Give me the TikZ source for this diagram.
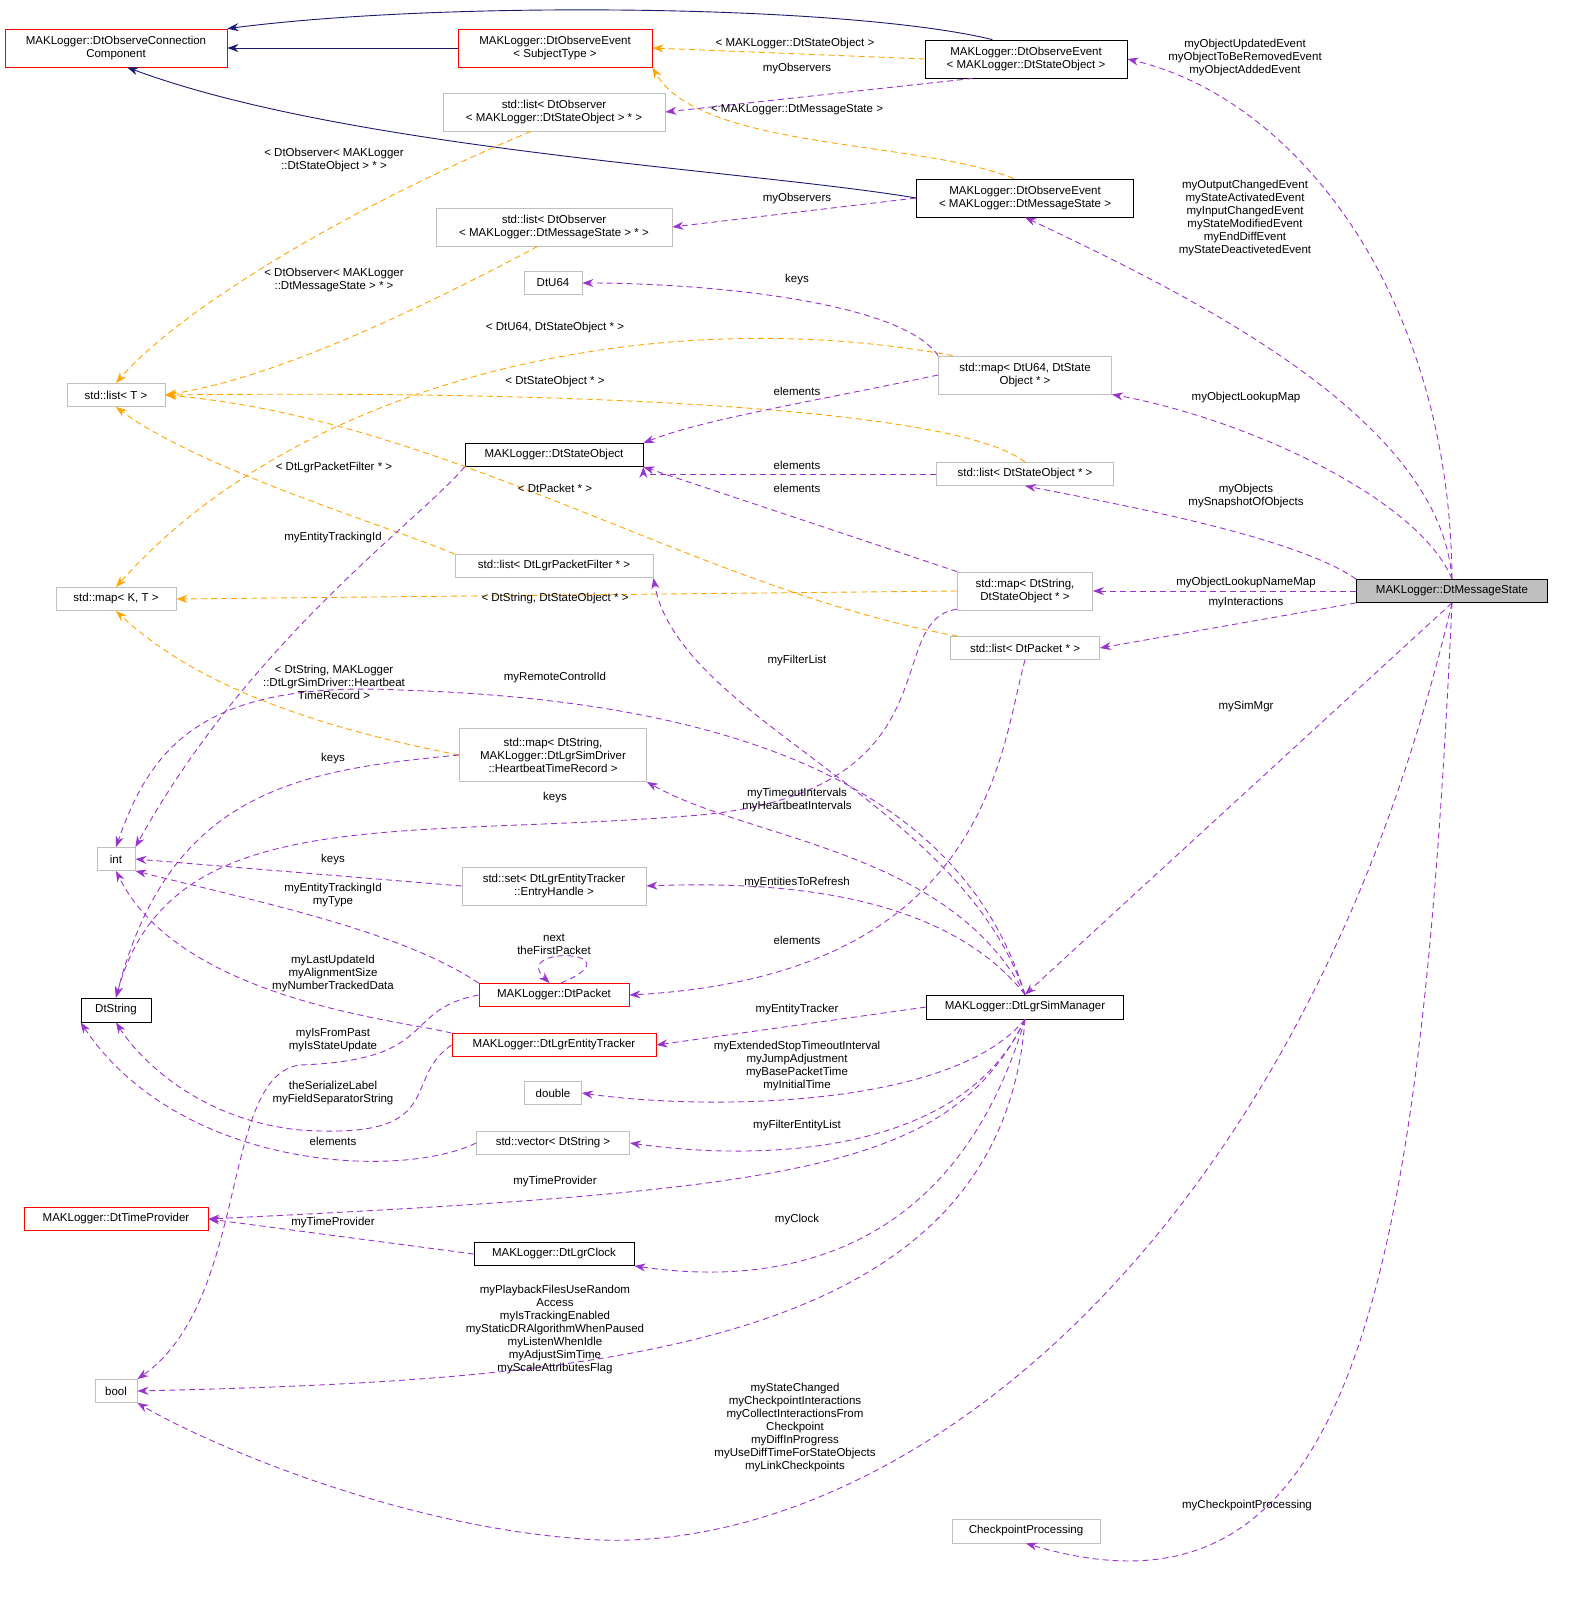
\documentclass[tikz,border=0pt]{standalone}
\usepackage{fontspec}
\setmainfont{Liberation Sans}
\usetikzlibrary{arrows.meta}
\definecolor{inhnavy}{RGB}{25,25,112}
\definecolor{usepurple}{RGB}{154,50,205}
\definecolor{tmplorange}{RGB}{255,165,0}
\definecolor{boxgray}{RGB}{191,191,191}

\begin{document}
\begin{tikzpicture}[x=1pt,y=-1pt,
    every node/.style={font=\fontsize{11.5}{13}\selectfont},
    cls/.style={draw=boxgray, fill=white, align=center, inner sep=1pt, line width=0.8pt},
    dcls/.style={cls, draw=black},
    rcls/.style={cls, draw=red},
    lbl/.style={align=center, inner sep=0pt},
    inh/.style={inhnavy, line width=0.9pt, -{Stealth[length=11pt,width=8pt]}},
    usage/.style={usepurple, line width=0.9pt, dash pattern=on 6pt off 4pt, -{Stealth[length=11pt,width=8pt]}},
    tmpl/.style={tmplorange, line width=0.9pt, dash pattern=on 6pt off 4pt, -{Stealth[length=11pt,width=8pt]}}]
    \useasboundingbox (0,0) rectangle (1589,1603);

    % Classes
    \node[rcls, minimum width=222, minimum height=38] (conn) at (116,48) {MAKLogger::DtObserveConnection\\Component};
    \node[rcls, minimum width=194, minimum height=38] (evSubj) at (555,48) {MAKLogger::DtObserveEvent\\< SubjectType >};
    \node[dcls, minimum width=202, minimum height=38] (evState) at (1026,59) {MAKLogger::DtObserveEvent\\< MAKLogger::DtStateObject >};
    \node[cls, minimum width=222, minimum height=38] (listObsState) at (554,112) {std::list< DtObserver\\< MAKLogger::DtStateObject > * >};
    \node[dcls, minimum width=217, minimum height=38] (evMsg) at (1025,198) {MAKLogger::DtObserveEvent\\< MAKLogger::DtMessageState >};
    \node[cls, minimum width=236, minimum height=38] (listObsMsg) at (554,227) {std::list< DtObserver\\< MAKLogger::DtMessageState > * >};
    \node[cls, minimum width=58, minimum height=23] (dtu64) at (553,283) {DtU64};
    \node[cls, minimum width=98, minimum height=23] (listT) at (116,395) {std::list< T >};
    \node[cls, minimum width=173, minimum height=38] (mapDtU64) at (1025,375) {std::map< DtU64, DtState\\Object * >};
    \node[dcls, minimum width=178, minimum height=23] (stateObj) at (554,455) {MAKLogger::DtStateObject};
    \node[cls, minimum width=177, minimum height=23] (listStateObj) at (1025,474) {std::list< DtStateObject * >};
    \node[cls, minimum width=198, minimum height=23] (listFilter) at (554,566) {std::list< DtLgrPacketFilter * >};
    \node[cls, minimum width=120, minimum height=23] (mapKT) at (116,599) {std::map< K, T >};
    \node[cls, minimum width=135, minimum height=38] (mapStr) at (1025,591) {std::map< DtString,\\DtStateObject * >};
    \node[cls, fill=boxgray, draw=black, minimum width=191, minimum height=23] (msgState) at (1452,591) {MAKLogger::DtMessageState};
    \node[cls, minimum width=149, minimum height=23] (listPacket) at (1025,648) {std::list< DtPacket * >};
    \node[cls, minimum width=187, minimum height=53] (mapHb) at (553,755) {std::map< DtString,\\MAKLogger::DtLgrSimDriver\\::HeartbeatTimeRecord >};
    \node[cls, minimum width=38, minimum height=23] (int) at (116,859) {int};
    \node[cls, minimum width=184, minimum height=38] (setEntry) at (554,886) {std::set< DtLgrEntityTracker\\::EntryHandle >};
    \node[rcls, minimum width=150, minimum height=23] (packet) at (554,995) {MAKLogger::DtPacket};
    \node[dcls, minimum width=70, minimum height=24] (dtstring) at (116,1010) {DtString};
    \node[dcls, minimum width=197, minimum height=24] (simMgr) at (1025,1007) {MAKLogger::DtLgrSimManager};
    \node[rcls, minimum width=204, minimum height=23] (entTracker) at (554,1045) {MAKLogger::DtLgrEntityTracker};
    \node[cls, minimum width=57, minimum height=23] (double) at (553,1093) {double};
    \node[cls, minimum width=153, minimum height=23] (vecStr) at (553,1143) {std::vector< DtString >};
    \node[rcls, minimum width=184, minimum height=23] (timeProv) at (116,1219) {MAKLogger::DtTimeProvider};
    \node[dcls, minimum width=160, minimum height=23] (clock) at (554,1254) {MAKLogger::DtLgrClock};
    \node[cls, minimum width=42, minimum height=23] (bool) at (116,1391) {bool};
    \node[cls, minimum width=148, minimum height=24] (cpp) at (1026,1531) {CheckpointProcessing};

    % Inheritance
    \draw[inh] (evSubj) -- (conn);
    \draw[inh] (evState.150) .. controls (850,5) and (450,0) .. (conn.north east);
    \draw[inh] (evMsg.west) .. controls (750,170) and (350,150) .. (conn.300);

    % Template instances
    \draw[tmpl] (evState.west) -- (evSubj.east);
    \draw[tmpl] (evMsg.120) .. controls (920,140) and (700,150) .. (evSubj.south east);
    \draw[tmpl] (listObsState.220) .. controls (320,220) and (170,320) .. (listT.north);
    \draw[tmpl] (listObsMsg.230) .. controls (380,330) and (260,380) .. (listT.east);
    \draw[tmpl] (mapDtU64.165) .. controls (650,300) and (300,380) .. (mapKT.north);
    \draw[tmpl] (listStateObj.north) .. controls (960,410) and (600,390) .. (listT.east);
    \draw[tmpl] (listFilter.north west) .. controls (400,530) and (200,470) .. (listT.south);
    \draw[tmpl] (mapStr.west) -- (mapKT.east);
    \draw[tmpl] (listPacket.170) .. controls (700,590) and (450,420) .. (listT.east);
    \draw[tmpl] (mapHb.west) .. controls (330,730) and (200,690) .. (mapKT.south);

    % Usage
    \draw[usage] (evState.200) -- (listObsState.east);
    \draw[usage] (evMsg.west) -- (listObsMsg.east);
    \draw[usage] (mapDtU64.north west) .. controls (900,300) and (700,283) .. (dtu64.east);
    \draw[usage] (mapDtU64.west) .. controls (820,400) and (700,420) .. (stateObj.north east);
    \draw[usage] (listStateObj.west) -- (stateObj.east |- listStateObj.west) -- ++(0,0) -- (stateObj.south east);
    \draw[usage] (mapStr.north west) -- (stateObj.south east);
    \draw[usage] (mapStr.195) .. controls (880,620) and (960,790) .. (700,815) .. controls (400,840) and (170,800) .. (dtstring.north);
    \draw[usage] (stateObj.south west) .. controls (420,520) and (250,640) .. (int.north east);
    \draw[usage] (mapHb.west) .. controls (300,770) and (170,790) .. (dtstring.north);
    \draw[usage] (setEntry.west) -- (int.east);
    \draw[usage] (packet.north west) .. controls (400,930) and (250,900) .. (int.south east);
    \draw[usage] (packet.60) .. controls (640,950) and (510,945) .. (packet.110);
    \draw[usage] (packet.west) .. controls (400,1010) and (440,1060) .. (300,1065) .. controls (220,1075) and (250,1300) .. (bool.north east);
    \draw[usage] (entTracker.north west) .. controls (400,1020) and (180,1000) .. (int.south);
    \draw[usage] (entTracker.west) .. controls (400,1080) and (450,1140) .. (300,1130) .. controls (200,1120) and (140,1060) .. (dtstring.south);
    \draw[usage] (vecStr.west) .. controls (400,1180) and (180,1170) .. (dtstring.south west);
    \draw[usage] (clock.west) -- (timeProv.east);
    \draw[usage] (listPacket.south) .. controls (1000,750) and (990,975) .. (packet.east);
    \draw[usage] (simMgr.north) .. controls (960,800) and (680,720) .. (listFilter.south east);
    \draw[usage] (simMgr.north) .. controls (960,780) and (720,700) .. (400,690) .. controls (200,680) and (150,750) .. (int.north);
    \draw[usage] (simMgr.north) .. controls (950,850) and (750,840) .. (mapHb.south east);
    \draw[usage] (simMgr.north) .. controls (950,900) and (800,880) .. (setEntry.east);
    \draw[usage] (simMgr.west) -- (entTracker.east);
    \draw[usage] (simMgr.south) .. controls (950,1110) and (700,1110) .. (double.east);
    \draw[usage] (simMgr.south) .. controls (960,1160) and (750,1160) .. (vecStr.east);
    \draw[usage] (simMgr.south) .. controls (950,1170) and (800,1190) .. (timeProv.east);
    \draw[usage] (simMgr.south) .. controls (960,1240) and (800,1290) .. (clock.south east);
    \draw[usage] (simMgr.south) .. controls (1000,1350) and (600,1380) .. (bool.east);
    \draw[usage] (msgState.north) .. controls (1450,300) and (1300,100) .. (evState.east);
    \draw[usage] (msgState.north) .. controls (1440,420) and (1200,300) .. (evMsg.south);
    \draw[usage] (msgState.north) .. controls (1420,500) and (1250,420) .. (mapDtU64.south east);
    \draw[usage] (msgState.north west) .. controls (1300,540) and (1150,510) .. (listStateObj.south);
    \draw[usage] (msgState.west) -- (mapStr.east);
    \draw[usage] (msgState.south west) -- (listPacket.east);
    \draw[usage] (msgState.south) -- (simMgr.north);
    \draw[usage] (msgState.south) .. controls (1300,1250) and (900,1550) .. (600,1540) .. controls (400,1530) and (200,1440) .. (bool.south east);
    \draw[usage] (msgState.south) .. controls (1420,1300) and (1350,1640) .. (cpp.south);

    % Edge labels
    \node[lbl] (lInhState) at (795,44) {< MAKLogger::DtStateObject >};
    \node[lbl] (lInhMsg) at (797,110) {< MAKLogger::DtMessageState >};
    \node[lbl] (lObsState) at (334,160) {< DtObserver< MAKLogger\\::DtStateObject > * >};
    \node[lbl] (lObsMsg) at (334,280) {< DtObserver< MAKLogger\\::DtMessageState > * >};
    \node[lbl] (lMapU64) at (555,328) {< DtU64, DtStateObject * >};
    \node[lbl] (lListState) at (555,382) {< DtStateObject * >};
    \node[lbl] (lListFilter) at (334,468) {< DtLgrPacketFilter * >};
    \node[lbl] (lListPacket) at (555,488) {< DtPacket * >};
    \node[lbl] (lMapStr) at (555,599) {< DtString, DtStateObject * >};
    \node[lbl] (lMapHb) at (334,682) {< DtString, MAKLogger\\::DtLgrSimDriver::Heartbeat\\TimeRecord >};
    \node[lbl] (lObs1) at (797,69) {myObservers};
    \node[lbl] (lObs2) at (797,199) {myObservers};
    \node[lbl] (lKeys1) at (797,280) {keys};
    \node[lbl] (lElem1) at (797,391) {elements};
    \node[lbl] (lElem2) at (797,465) {elements};
    \node[lbl] (lElem3) at (797,488) {elements};
    \node[lbl] (lTrack1) at (333,538) {myEntityTrackingId};
    \node[lbl] (lFilter) at (797,661) {myFilterList};
    \node[lbl] (lRemote) at (555,678) {myRemoteControlId};
    \node[lbl] (lKeys2) at (333,759) {keys};
    \node[lbl] (lKeys3) at (555,798) {keys};
    \node[lbl] (lTimeout) at (797,800) {myTimeoutIntervals\\myHeartbeatIntervals};
    \node[lbl] (lKeys4) at (333,860) {keys};
    \node[lbl] (lRefresh) at (797,883) {myEntitiesToRefresh};
    \node[lbl] (lTrack2) at (333,895) {myEntityTrackingId\\myType};
    \node[lbl] (lNext) at (554,944) {next\\theFirstPacket};
    \node[lbl] (lElem4) at (797,940) {elements};
    \node[lbl] (lLast) at (333,974) {myLastUpdateId\\myAlignmentSize\\myNumberTrackedData};
    \node[lbl] (lTracker) at (797,1010) {myEntityTracker};
    \node[lbl] (lPast) at (333,1040) {myIsFromPast\\myIsStateUpdate};
    \node[lbl] (lExt) at (797,1066) {myExtendedStopTimeoutInterval\\myJumpAdjustment\\myBasePacketTime\\myInitialTime};
    \node[lbl] (lSerial) at (333,1093) {theSerializeLabel\\myFieldSeparatorString};
    \node[lbl] (lFilterEnt) at (797,1126) {myFilterEntityList};
    \node[lbl] (lElem5) at (333,1141) {elements};
    \node[lbl] (lTime1) at (555,1182) {myTimeProvider};
    \node[lbl] (lTime2) at (333,1223) {myTimeProvider};
    \node[lbl] (lClock) at (797,1220) {myClock};
    \node[lbl] (lPlay) at (555,1330) {myPlaybackFilesUseRandom\\Access\\myIsTrackingEnabled\\myStaticDRAlgorithmWhenPaused\\myListenWhenIdle\\myAdjustSimTime\\myScaleAttributesFlag};
    \node[lbl] (lEvents1) at (1245,58) {myObjectUpdatedEvent\\myObjectToBeRemovedEvent\\myObjectAddedEvent};
    \node[lbl] (lEvents2) at (1245,218) {myOutputChangedEvent\\myStateActivatedEvent\\myInputChangedEvent\\myStateModifiedEvent\\myEndDiffEvent\\myStateDeactivetedEvent};
    \node[lbl] (lLookup) at (1246,398) {myObjectLookupMap};
    \node[lbl] (lObjects) at (1246,496) {myObjects\\mySnapshotOfObjects};
    \node[lbl] (lNameMap) at (1246,583) {myObjectLookupNameMap};
    \node[lbl] (lInter) at (1246,603) {myInteractions};
    \node[lbl] (lSim) at (1246,707) {mySimMgr};
    \node[lbl] (lState) at (795,1428) {myStateChanged\\myCheckpointInteractions\\myCollectInteractionsFrom\\Checkpoint\\myDiffInProgress\\myUseDiffTimeForStateObjects\\myLinkCheckpoints};
    \node[lbl] (lCheck) at (1247,1506) {myCheckpointProcessing};
\end{tikzpicture}
\end{document}
